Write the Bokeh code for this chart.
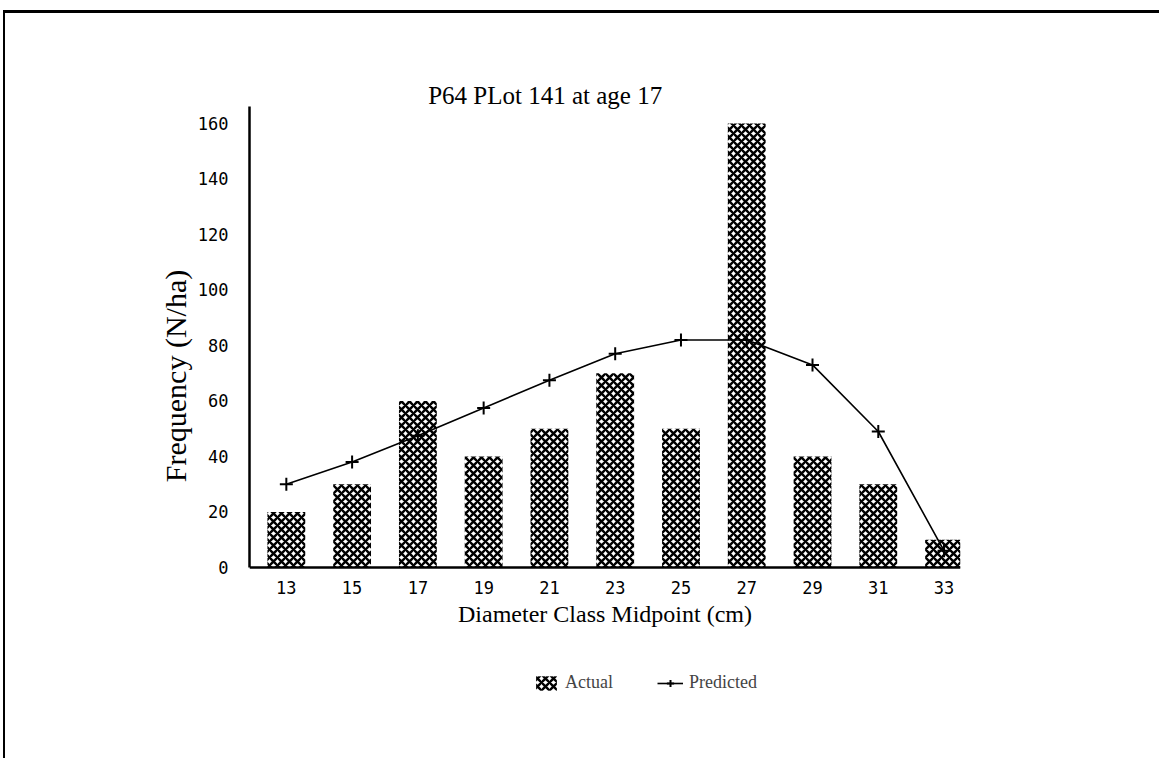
from bokeh.plotting import figure
from bokeh.models import ColumnDataSource, Label, Legend, LegendItem, FixedTicker, Range1d, LinearAxis
from bokeh.embed import file_html
from bokeh.resources import INLINE

# ---- data ----
diameters = [13, 15, 17, 19, 21, 23, 25, 27, 29, 31, 33]
actual = [20, 30, 60, 40, 50, 70, 50, 160, 40, 30, 10]
predicted = [30, 38, 47.5, 57.5, 67.5, 77, 82, 82, 73, 49, 6]
y_ticks = [0, 20, 40, 60, 80, 100, 120, 140, 160]
title_text = "P64 PLot 141 at age 17"
x_label = "Diameter Class Midpoint (cm)"
y_label = "Frequency (N/ha)"

src = ColumnDataSource(dict(x=diameters, actual=actual, predicted=predicted))

p = figure(width=1156, height=748, output_backend="svg", toolbar_location=None,
           x_range=Range1d(11.88, 33.5), y_range=Range1d(-48.3, 186.3),
           x_axis_location=None,
           min_border_left=244, min_border_right=201, min_border_top=37, min_border_bottom=60)
p.styles = {"margin-top": "10px", "margin-left": "3px",
            "border-top": "3px solid black", "border-left": "2px solid black"}
p.outline_line_color = None
p.grid.visible = False
p.background_fill_color = "white"
p.border_fill_color = "white"

bars = p.vbar(x="x", top="actual", width=1.15, source=src, fill_color="white",
              line_color=None, hatch_pattern="diagonal_cross", hatch_color="black",
              hatch_weight=2.4, hatch_scale=8)
ln = p.line(x="x", y="predicted", source=src, line_color="black", line_width=1.6)
mk = p.scatter(x="x", y="predicted", source=src, marker="cross", size=13,
               line_color="black", line_width=2)

serif = "Liberation Serif"
mono = "DejaVu Sans Mono"

xaxis = LinearAxis(fixed_location=0)
p.add_layout(xaxis, "below")

p.yaxis.bounds = (0, 166.1)
xaxis.ticker = FixedTicker(ticks=diameters)
p.yaxis.ticker = FixedTicker(ticks=y_ticks)
for ax in (xaxis, p.yaxis[0]):
    ax.major_tick_line_color = None
    ax.minor_tick_line_color = None
    ax.axis_line_color = "black"
    ax.axis_line_width = 2.5
    ax.major_label_text_font = mono
    ax.major_label_text_font_size = "17px"
    ax.major_label_text_color = "black"
    ax.axis_label_text_font = serif
    ax.axis_label_text_font_style = "normal"
    ax.axis_label_text_color = "black"
xaxis.major_label_standoff = 8
p.yaxis.major_label_standoff = 15
xaxis.axis_label = x_label
p.yaxis.axis_label = y_label
xaxis.axis_label_text_font_size = "24px"
p.yaxis.axis_label_text_font_size = "30px"
xaxis.axis_label_standoff = 3
p.yaxis.axis_label_standoff = 3

# title
p.add_layout(Label(x=20.87, y=170.1, text=title_text, text_font=serif,
                   text_font_size="25px", text_align="center", text_baseline="middle",
                   text_color="black"))

legend = Legend(items=[LegendItem(label="Actual", renderers=[bars]),
                       LegendItem(label="Predicted", renderers=[ln, mk])],
                orientation="horizontal", location=(284, 8),
                label_text_font=serif, label_text_font_size="18px",
                glyph_width=26, glyph_height=18, label_standoff=6, spacing=44,
                padding=0, margin=0, border_line_color=None,
                background_fill_alpha=0)
p.add_layout(legend, "center")

open("out.html", "w").write(file_html(p, INLINE))
